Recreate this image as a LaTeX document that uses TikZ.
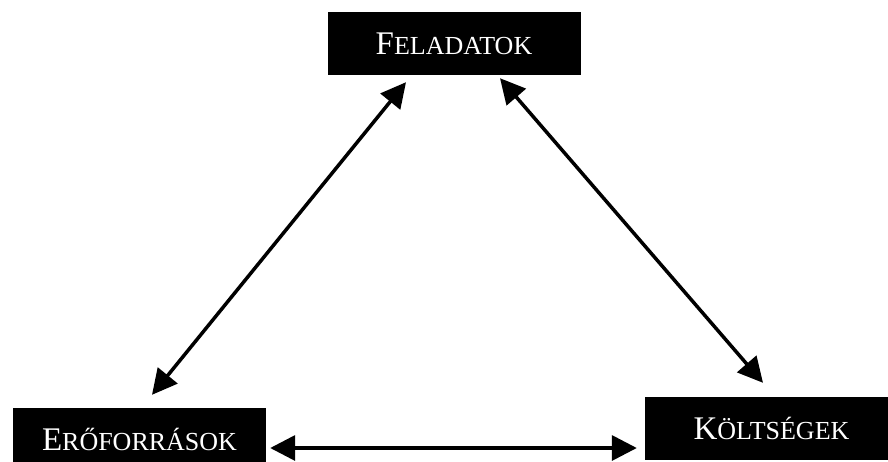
\documentclass[tikz,border=0pt]{standalone}
\usepackage{fontspec}
\setmainfont{Liberation Serif}
\usetikzlibrary{arrows.meta}

% Word-like small capitals
\newcommand{\kiskap}[2]{{\fontsize{33}{36}\selectfont #1}{\fontsize{26}{30}\selectfont #2}}

\begin{document}
\begin{tikzpicture}[x=1pt,y=-1pt,
    box/.style={fill=black, text=white, inner sep=0pt,
      minimum width=253pt, minimum height=63pt, text height=22pt, text depth=0pt},
    link/.style={line width=3.5pt,
      {Triangle[length=25pt,width=25pt]}-{Triangle[length=25pt,width=25pt]}}]

    \useasboundingbox (0,0) rectangle (888,461);
    \clip (0,0) rectangle (888,461);

    \node[box] (fel) at (454,43) {\kiskap{F}{ELADATOK}};
    \node[box] (ero) at (139.5,439) {\kiskap{E}{RŐFORRÁSOK}};
    \node[box] (kol) at (771.5,428.5) {\kiskap{K}{ÖLTSÉGEK}};

    \draw[link] ([xshift=12.5pt,yshift=12.5pt]ero.north) -- ([xshift=-48pt,yshift=-7.5pt]fel.south);
    \draw[link] ([xshift=46pt,yshift=-3.5pt]fel.south) -- ([xshift=-8.5pt,yshift=14pt]kol.north);
    \draw[link] ([xshift=4pt,yshift=-9pt]ero.east) -- ([xshift=-8pt,yshift=-19.5pt]kol.west);

\end{tikzpicture}
\end{document}
